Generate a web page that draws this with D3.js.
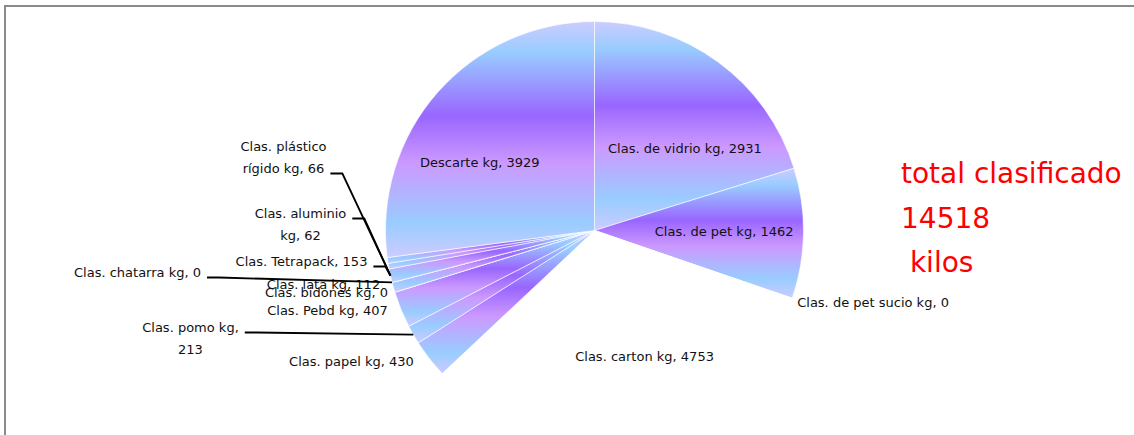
<!DOCTYPE html>
<html>
<head>
<meta charset="utf-8">
<script src="https://cdn.jsdelivr.net/npm/d3@7"></script>
<style>
  html, body { margin: 0; padding: 0; background: #fff; }
  svg { display: block; font-family: 'DejaVu Sans', sans-serif; }
  .label { font-size: 13px; fill: #111; }
  .leader { fill: none; stroke: #000; stroke-width: 1.8; }
  .total { font-size: 28px; fill: #f00; }
</style>
</head>
<body>
<div id="chart"></div>
<script>
// slices, clockwise from 12 o'clock
const categories = [
  'Clas. de vidrio kg', 'Clas. de pet kg', 'Clas. de pet sucio kg', 'Clas. carton kg',
  'Clas. papel kg', 'Clas. pomo kg', 'Clas. Pebd kg', 'Clas. bidones kg', 'Clas. lata kg',
  'Clas. chatarra kg', 'Clas. Tetrapack', 'Clas. aluminio kg', 'Clas. plástico rígido kg', 'Descarte kg'
];
const values = [2931, 1462, 0, 4753, 430, 213, 407, 0, 112, 0, 153, 62, 66, 3929];
const totalText = ['total clasificado', null, ' kilos']; // middle line is the sum
const gradientStops = [
  [0, '#ccccff'], [0.13, '#99ccff'], [0.4, '#9966ff'], [0.6, '#cc99ff'], [0.85, '#99ccff'], [1, '#ccccff']
];

const width = 1134, height = 435;
const cx = 594.5, cy = 230.5, radius = 209;

// label placement for the crowded left side (offsets from pie centre)
const outside = {
  'Clas. papel kg':           {dx: -243, dy: 131},
  'Clas. pomo kg':            {dx: -404, dy: 97, wrap: true, leader: 'Clas. pomo kg', leaderLine: 0},
  'Clas. Pebd kg':            {dx: -267, dy: 80},
  'Clas. bidones kg':         {dx: -268, dy: 62},
  'Clas. lata kg':            {dx: -271, dy: 54},
  'Clas. chatarra kg':        {dx: -457, dy: 42, leader: 'Clas. chatarra kg', leaderLine: 0},
  'Clas. Tetrapack':          {dx: -293, dy: 31, leader: 'Clas. Tetrapack', leaderLine: 0},
  'Clas. aluminio kg':        {dx: -294, dy: -17, wrap: true, leader: 'Clas. Tetrapack', leaderLine: 0},
  'Clas. plástico rígido kg': {dx: -311, dy: -84, wrap: true, leader: 'Clas. Tetrapack', leaderLine: 1}
};
// the big blank slice has its label lower and further right
const insideShift = {
  'Clas. carton kg': {dx: 18, dy: 26}
};

const data = categories.map((c, i) => ({name: c, value: values[i]}));

const svg = d3.select('#chart').append('svg')
  .attr('width', width)
  .attr('height', height);

// frame
svg.append('rect')
  .attr('x', 5).attr('y', 6)
  .attr('width', width + 10).attr('height', height + 10)
  .attr('fill', 'none')
  .attr('stroke', '#8a8a8a')
  .attr('stroke-width', 2);

const grad = svg.append('defs').append('linearGradient')
  .attr('id', 'sliceFill')
  .attr('x1', 0).attr('y1', 0).attr('x2', 0).attr('y2', 1);
grad.selectAll('stop')
  .data(gradientStops)
  .enter().append('stop')
  .attr('offset', d => d[0])
  .attr('stop-color', d => d[1]);

const pie = d3.pie().sort(null).value(d => d.value);
const arcs = pie(data);
const arc = d3.arc().innerRadius(0).outerRadius(radius);
const mid = d => (d.startAngle + d.endAngle) / 2;
const onCircle = (a, r) => [cx + r * Math.sin(a), cy - r * Math.cos(a)];

const g = svg.append('g').attr('transform', `translate(${cx},${cy})`);

g.selectAll('.slice')
  .data(arcs)
  .enter().append('path')
  .attr('class', 'slice')
  .attr('d', arc)
  // carton comes out blank in the original
  .attr('fill', d => d.data.name === 'Clas. carton kg' ? '#fff' : 'url(#sliceFill)')
  .attr('stroke', '#fff')
  .attr('stroke-width', 0.6);

const labelText = d => `${d.data.name}, ${d.data.value}`;

function wrapWords(text, maxW) {
  const words = text.split(' ');
  const lines = [];
  let cur = '';
  const probe = svg.append('text').attr('class', 'label');
  words.forEach(w => {
    const test = cur ? cur + ' ' + w : w;
    probe.text(test);
    if (cur && probe.node().getComputedTextLength() > maxW) {
      lines.push(cur);
      cur = w;
    } else {
      cur = test;
    }
  });
  lines.push(cur);
  probe.remove();
  return lines;
}

const labels = svg.append('g');
const byName = {};
arcs.forEach(d => { byName[d.data.name] = d; });

arcs.forEach(d => {
  const name = d.data.name;
  const lay = outside[name];
  if (lay) {
    const lines = lay.wrap ? wrapWords(labelText(d), 100) : [labelText(d)];
    const x = cx + lay.dx;
    const t = labels.append('text')
      .attr('class', 'label')
      .attr('text-anchor', 'middle');
    lines.forEach((ln, i) => {
      t.append('tspan')
        .attr('x', x)
        .attr('y', cy + lay.dy + i * 22)
        .attr('dy', '0.35em')
        .text(ln);
    });
    if (lay.leader) {
      const span = t.selectAll('tspan').nodes()[lay.leaderLine];
      const w = span.getComputedTextLength();
      const sx = x + w / 2 + 6;
      const sy = cy + lay.dy + lay.leaderLine * 22 + 5;
      const end = onCircle(mid(byName[lay.leader]), radius);
      labels.append('path')
        .attr('class', 'leader')
        .attr('d', d3.line()([[sx, sy], [sx + 12, sy], end]));
    }
  } else if (d.value === 0) {
    // empty slice outside the crowded side: label beside its edge
    const p = onCircle(d.startAngle, radius);
    labels.append('text')
      .attr('class', 'label')
      .attr('x', p[0] + 5)
      .attr('y', p[1] + 4)
      .attr('dy', '0.35em')
      .text(labelText(d));
  } else {
    // inside labels on a flattened ring, kept inside the circle
    const a = mid(d);
    const shift = insideShift[name] || {dx: 0, dy: 0};
    let x = cx + 0.73 * radius * Math.sin(a) + shift.dx;
    const y = cy - 0.49 * radius * Math.cos(a) + shift.dy;
    const t = labels.append('text')
      .attr('class', 'label')
      .attr('text-anchor', 'middle')
      .attr('x', x).attr('y', y)
      .attr('dy', '0.35em')
      .text(labelText(d));
    const w = t.node().getComputedTextLength();
    const half = Math.sqrt(radius * radius - (y - cy) * (y - cy)) - 10;
    if (x + w / 2 > cx + half) x = cx + half - w / 2;
    if (x - w / 2 < cx - half) x = cx - half + w / 2;
    t.attr('x', x);
  }
});

// total block
const total = d3.sum(values);
const tt = svg.append('text')
  .attr('class', 'total')
  .attr('xml:space', 'preserve');
totalText.forEach((ln, i) => {
  tt.append('tspan')
    .attr('x', 901)
    .attr('y', 183 + i * 44.5)
    .text(ln === null ? String(total) : ln);
});
</script>
</body>
</html>
